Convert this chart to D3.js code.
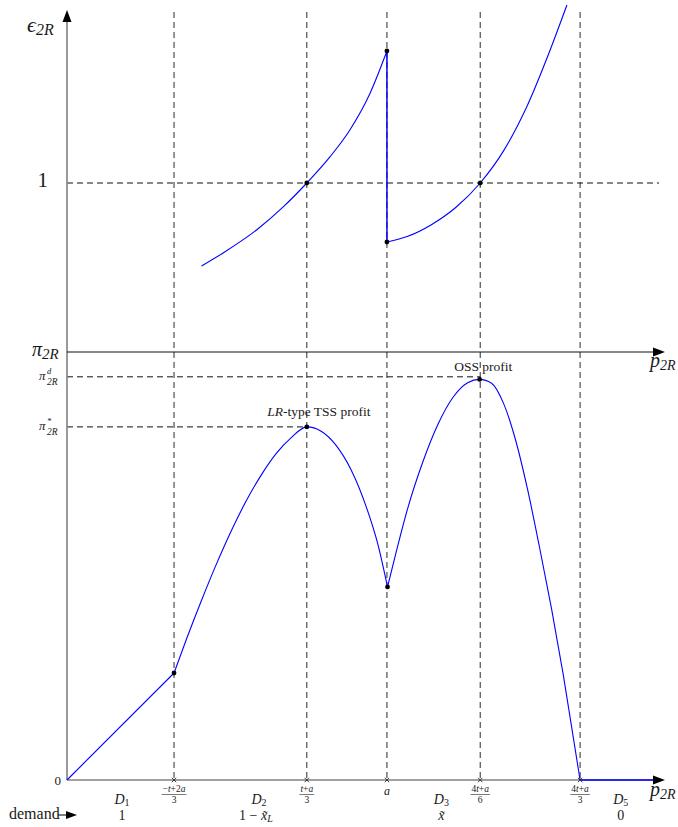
<!DOCTYPE html>
<html>
<head>
<meta charset="utf-8">
<script src="https://cdn.jsdelivr.net/npm/d3@7"></script>
<style>
  html, body { margin: 0; padding: 0; background: #fff; }
</style>
</head>
<body>
<svg id="chart" width="678" height="827" font-family="'Liberation Serif', 'DejaVu Serif', serif"></svg>
<script>
// ---------- data ----------
const pTicks = [17.9, 40.1, 53.5, 69.1, 85.8];
const tickNum = ["−t+2a", "t+a", null, "4t+a", "4t+a"];
const tickDen = ["3", "3", null, "6", "3"];
const tickPlain = [null, null, "a", null, null];

const regionP = [9.2, 32.1, 62.6, 92.6];
const regionNames = ["1", "2", "3", "5"];          // D subscripts

const epsOne = 1;
const epsLeft = [
  [22.5, 0.509], [26.1, 0.586], [31.7, 0.722], [36.2, 0.860], [40.1, 1.0],
  [44.0, 1.156], [47.3, 1.314], [50.7, 1.533], [53.5, 1.781]
];
const epsRight = [
  [53.5, 0.651], [57.0, 0.685], [61.0, 0.755], [65.0, 0.855], [69.1, 1.0],
  [73.0, 1.19], [77.0, 1.46], [80.5, 1.76], [83.6, 2.053]
];
const epsDots = [[40.1, 1.0], [53.5, 1.781], [53.5, 0.651], [69.1, 1.0]];

const piStar = 0.825, piD = 0.942;
const profLinear = [[0, 0], [17.9, 0.25]];
const profLR = [
  [17.9, 0.250], [20.0, 0.330], [22.5, 0.420], [25.0, 0.505], [27.5, 0.583],
  [30.0, 0.653], [32.5, 0.713], [35.0, 0.763], [37.5, 0.800], [40.1, 0.825],
  [42.5, 0.815], [45.0, 0.782], [47.5, 0.725], [50.0, 0.640], [52.0, 0.550],
  [53.6, 0.451]
];
const profOSS = [
  [53.6, 0.451], [55.0, 0.530], [57.0, 0.636], [59.5, 0.743], [62.0, 0.830],
  [64.5, 0.893], [67.0, 0.928], [69.0, 0.936], [71.0, 0.927], [73.0, 0.880],
  [75.0, 0.795], [77.0, 0.680], [79.0, 0.545], [81.0, 0.402], [83.0, 0.245],
  [85.8, 0]
];
const profZero = [[85.8, 0], [99.2, 0]];
const profDots = [[17.9, 0.25], [40.1, 0.825], [53.6, 0.451], [69.0, 0.936]];

// ---------- scales ----------
const svg = d3.select("#chart");
const x = d3.scaleLinear().domain([0, 100]).range([67, 665]);
const yE = d3.scaleLinear().domain([0, 2.1]).range([352, 352 - 2.1 * 169]);
const yP = d3.scaleLinear().domain([0, 1]).range([780, 352]);

const blue = "#0000ff";
const ink = "#1a1a1a";

const defs = svg.append("defs");
defs.append("clipPath").attr("id", "clip").append("rect")
  .attr("x", 0).attr("y", 0).attr("width", 678).attr("height", 827);

// ---------- dashed guides ----------
const g = svg.append("g");
pTicks.forEach(p => {
  g.append("line").attr("x1", x(p)).attr("x2", x(p))
    .attr("y1", 12).attr("y2", yP(0))
    .attr("stroke", "#2a2a2a").attr("stroke-width", 1).attr("stroke-dasharray", "6,4");
});
g.append("line").attr("x1", x(0)).attr("x2", x(99))
  .attr("y1", yE(epsOne)).attr("y2", yE(epsOne))
  .attr("stroke", "#111").attr("stroke-dasharray", "6,4");
g.append("line").attr("x1", x(0)).attr("x2", x(69.1))
  .attr("y1", yP(piD)).attr("y2", yP(piD))
  .attr("stroke", "#111").attr("stroke-dasharray", "6,4");
g.append("line").attr("x1", x(0)).attr("x2", x(40.1))
  .attr("y1", yP(piStar)).attr("y2", yP(piStar))
  .attr("stroke", "#111").attr("stroke-dasharray", "6,4");

// ---------- axes ----------
function arrowHead(tipX, tipY, dir) {
  let pts;
  if (dir === "up") pts = [[tipX, tipY], [tipX - 4.5, tipY + 12], [tipX + 4.5, tipY + 12]];
  else pts = [[tipX, tipY], [tipX - 12, tipY - 4.5], [tipX - 12, tipY + 4.5]];
  svg.append("path").attr("d", "M" + pts.map(p => p.join(",")).join("L") + "Z").attr("fill", "#000");
}
svg.append("line").attr("x1", x(0)).attr("x2", x(0)).attr("y1", yP(0)).attr("y2", 20)
  .attr("stroke", "#808080").attr("stroke-width", 1.6);
arrowHead(x(0), 10, "up");
svg.append("line").attr("x1", x(0)).attr("x2", 655).attr("y1", yE(0)).attr("y2", yE(0))
  .attr("stroke", "#111").attr("stroke-width", 1.1);
arrowHead(665, yE(0), "right");
svg.append("line").attr("x1", x(0)).attr("x2", 655).attr("y1", yP(0)).attr("y2", yP(0))
  .attr("stroke", "#808080").attr("stroke-width", 1.6);

// ---------- curves ----------
const lineE = d3.line().x(d => x(d[0])).y(d => yE(d[1])).curve(d3.curveMonotoneX);
const lineP = d3.line().x(d => x(d[0])).y(d => yP(d[1])).curve(d3.curveMonotoneX);
const lineLin = d3.line().x(d => x(d[0])).y(d => yP(d[1]));

const cg = svg.append("g").attr("clip-path", "url(#clip)");
[epsLeft, epsRight].forEach(s => cg.append("path").attr("d", lineE(s))
  .attr("fill", "none").attr("stroke", blue).attr("stroke-width", 1.1));
cg.append("line").attr("x1", x(53.5)).attr("x2", x(53.5))
  .attr("y1", yE(1.781)).attr("y2", yE(0.651))
  .attr("stroke", blue).attr("stroke-width", 1.5);

cg.append("path").attr("d", lineLin(profLinear)).attr("fill", "none").attr("stroke", blue).attr("stroke-width", 1.1);
[profLR, profOSS].forEach(s => cg.append("path").attr("d", lineP(s))
  .attr("fill", "none").attr("stroke", blue).attr("stroke-width", 1.1));
cg.append("path").attr("d", lineLin(profZero)).attr("fill", "none").attr("stroke", blue).attr("stroke-width", 1.6);
arrowHead(665, yP(0), "right");

epsDots.forEach(d => svg.append("circle").attr("cx", x(d[0])).attr("cy", yE(d[1])).attr("r", 2.4).attr("fill", "#000"));
profDots.forEach(d => svg.append("circle").attr("cx", x(d[0])).attr("cy", yP(d[1])).attr("r", 2.4).attr("fill", "#000"));

pTicks.forEach(p => {
  const cx = x(p), cy = yP(0);
  svg.append("path").attr("d", `M${cx-2.2},${cy-2.2}L${cx+2.2},${cy+2.2}M${cx-2.2},${cy+2.2}L${cx+2.2},${cy-2.2}`)
    .attr("stroke", "#222").attr("stroke-width", 0.9);
});

// ---------- tick labels ----------
function mathText(sel, str) {
  const parts = str.match(/[a-z]+|[^a-z]+/g);
  parts.forEach(pt => {
    const ts = sel.append("tspan").text(pt);
    if (/^[a-z]+$/.test(pt)) ts.attr("font-style", "italic");
  });
}
pTicks.forEach((p, i) => {
  const cx = x(p);
  if (tickNum[i]) {
    const num = svg.append("text").attr("x", cx).attr("y", 792).attr("text-anchor", "middle")
      .attr("font-size", 9.5).attr("fill", ink);
    mathText(num, tickNum[i]);
    const w = num.node().getComputedTextLength();
    svg.append("line").attr("x1", cx - w / 2 - 1).attr("x2", cx + w / 2 + 1).attr("y1", 794.5).attr("y2", 794.5)
      .attr("stroke", "#222").attr("stroke-width", 0.6);
    svg.append("text").attr("x", cx).attr("y", 802.5).attr("text-anchor", "middle").attr("font-size", 9.5)
      .attr("fill", ink).text(tickDen[i]);
  } else {
    svg.append("text").attr("x", cx).attr("y", 795).attr("text-anchor", "middle")
      .attr("font-size", 12).attr("font-style", "italic").attr("fill", ink).text(tickPlain[i]);
  }
});

// region labels
regionP.forEach((p, i) => {
  const t = svg.append("text").attr("x", x(p)).attr("y", 804).attr("text-anchor", "middle")
    .attr("font-size", 14).attr("fill", ink);
  t.append("tspan").attr("font-style", "italic").text("D");
  t.append("tspan").attr("font-size", 10).attr("dy", 2).text(regionNames[i]);
});
const dy = 820;
svg.append("text").attr("x", x(regionP[0])).attr("y", dy).attr("text-anchor", "middle")
  .attr("font-size", 14).attr("fill", ink).text("1");
(function () {
  const t = svg.append("text").attr("x", x(regionP[1]) - 3).attr("y", dy).attr("text-anchor", "middle")
    .attr("font-size", 14).attr("fill", ink);
  t.append("tspan").text("1 − ");
  t.append("tspan").attr("font-style", "italic").text("x̃");
  t.append("tspan").attr("font-style", "italic").attr("font-size", 10).attr("dy", 2).text("L");
})();
svg.append("text").attr("x", x(regionP[2])).attr("y", dy).attr("text-anchor", "middle").attr("font-size", 14)
  .attr("font-style", "italic").attr("fill", ink).text("x̃");
svg.append("text").attr("x", x(regionP[3])).attr("y", dy).attr("text-anchor", "middle").attr("font-size", 14)
  .attr("fill", ink).text("0");

svg.append("text").attr("x", 9).attr("y", dy - 1).attr("font-size", 16).attr("fill", ink).text("demand");
svg.append("line").attr("x1", 58).attr("x2", 68).attr("y1", dy - 5).attr("y2", dy - 5).attr("stroke", "#000").attr("stroke-width", 1);
svg.append("path").attr("d", `M77,${dy-5}L66,${dy-9}L66,${dy-1}Z`).attr("fill", "#000");

// ---------- axis labels ----------
(function () {
  const t = svg.append("text").attr("x", 27).attr("y", 32).attr("font-size", 22).attr("fill", ink);
  t.append("tspan").attr("font-style", "italic").text("ϵ");
  t.append("tspan").attr("font-size", 16).attr("dy", 3).attr("font-style", "italic").text("2R");
})();
svg.append("text").attr("x", 48).attr("y", yE(epsOne) + 4).attr("text-anchor", "end")
  .attr("font-size", 21).attr("fill", ink).text("1");
(function () {
  const t = svg.append("text").attr("x", 32).attr("y", yE(0) + 4).attr("font-size", 20).attr("fill", ink);
  t.append("tspan").attr("font-style", "italic").text("π");
  t.append("tspan").attr("font-size", 15).attr("dy", 3).attr("font-style", "italic").text("2R");
})();
function piSmall(y, sup) {
  svg.append("text").attr("x", 39).attr("y", y + 3).attr("font-size", 13).attr("font-style", "italic")
    .attr("fill", ink).text("π");
  svg.append("text").attr("x", 47).attr("y", y - 3).attr("font-size", 8.5).attr("font-style", "italic")
    .attr("fill", ink).text(sup);
  svg.append("text").attr("x", 47).attr("y", y + 8).attr("font-size", 9.5).attr("font-style", "italic")
    .attr("fill", ink).text("2R");
}
piSmall(yP(piD), "d");
piSmall(yP(piStar), "*");
svg.append("text").attr("x", 61).attr("y", yP(0) + 5).attr("text-anchor", "end")
  .attr("font-size", 13).attr("fill", ink).text("0");

function pLabel(y) {
  const t = svg.append("text").attr("x", 650).attr("y", y).attr("font-size", 20).attr("fill", ink);
  t.append("tspan").attr("font-style", "italic").text("p");
  t.append("tspan").attr("font-size", 14).attr("dy", 3).attr("font-style", "italic").text("2R");
}
pLabel(yE(0) + 15);
pLabel(yP(0) + 16);

(function () {
  const t = svg.append("text").attr("x", x(40.1) + 12).attr("y", 416).attr("text-anchor", "middle")
    .attr("font-size", 13.5).attr("fill", ink);
  t.append("tspan").attr("font-style", "italic").text("LR");
  t.append("tspan").text("-type TSS profit");
})();
svg.append("text").attr("x", x(69.1) + 3).attr("y", 371).attr("text-anchor", "middle")
  .attr("font-size", 13.5).attr("fill", ink).text("OSS profit");
</script>
</body>
</html>
